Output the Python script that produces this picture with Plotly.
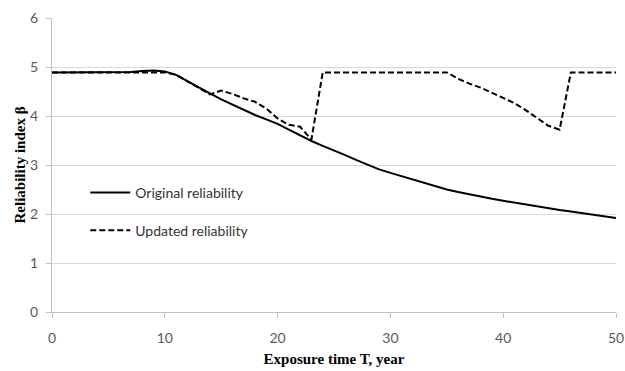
import plotly.graph_objects as go

years = list(range(0, 51))
original = [4.89, 4.89, 4.89, 4.89, 4.89, 4.89, 4.89, 4.90, 4.92, 4.93,
            4.91, 4.84, 4.71, 4.58, 4.46, 4.34, 4.23, 4.12, 4.02, 3.93,
            3.84, 3.72, 3.60, 3.49, 3.39, 3.30, 3.20, 3.10, 3.00, 2.91,
            2.84, 2.77, 2.70, 2.63, 2.56, 2.50, 2.45, 2.40, 2.36, 2.31,
            2.27, 2.23, 2.19, 2.15, 2.11, 2.08, 2.05, 2.02, 1.99, 1.96,
            1.92]
updated = [4.89, 4.89, 4.89, 4.89, 4.89, 4.89, 4.89, 4.89, 4.89, 4.89,
           4.89, 4.84, 4.71, 4.58, 4.44, 4.52, 4.45, 4.36, 4.29, 4.15,
           3.95, 3.82, 3.78, 3.52, 4.89, 4.89, 4.89, 4.89, 4.89, 4.89,
           4.89, 4.89, 4.89, 4.89, 4.89, 4.89, 4.76, 4.66, 4.58, 4.48,
           4.37, 4.26, 4.12, 3.96, 3.80, 3.72, 4.89, 4.89, 4.89, 4.89,
           4.89]

x_ticks = [0, 10, 20, 30, 40, 50]
y_ticks = [0, 1, 2, 3, 4, 5, 6]

tick_font = dict(family="Lato, Open Sans, sans-serif", size=14, color="#595959")
title_font = dict(family="Liberation Serif, Times New Roman, serif", size=15, color="#000000")

fig = go.Figure()
fig.add_trace(go.Scatter(x=years, y=original, mode="lines", name="Original reliability",
                         line=dict(color="black", width=2), legend="legend"))
fig.add_trace(go.Scatter(x=years, y=updated, mode="lines", name="Updated reliability",
                         line=dict(color="black", width=2, dash="6px,3px"), legend="legend2"))

legend_common = dict(bgcolor="rgba(0,0,0,0)", font=dict(family="Lato, Open Sans, sans-serif",
                     size=14, color="#333333"), xanchor="left", yanchor="middle",
                     itemwidth=40)
fig.update_layout(
    width=625, height=371,
    margin=dict(l=52, r=9, t=18, b=59, autoexpand=False),
    paper_bgcolor="white", plot_bgcolor="white",
    showlegend=True,
    legend=dict(x=0.059, y=0.405, **legend_common),
    legend2=dict(x=0.059, y=0.277, **legend_common),
    xaxis=dict(range=[0, 50], tickvals=x_ticks, showgrid=False, zeroline=False,
               showline=True, linecolor="#bfbfbf", linewidth=1,
               ticks="outside", ticklen=5, tickcolor="#bfbfbf", automargin=False,
               tickfont=tick_font, ticklabelstandoff=8,
               title=dict(text="<b>Exposure time T, year</b>", font=title_font, standoff=8)),
    yaxis=dict(range=[0, 6], tickvals=y_ticks, showgrid=True, gridcolor="#d9d9d9", gridwidth=1,
               zeroline=False, showline=True, linecolor="#bfbfbf", linewidth=1,
               ticks="outside", ticklen=5, tickcolor="#bfbfbf", automargin=False,
               tickfont=tick_font, ticklabelstandoff=5,
               title=dict(text="<b>Reliability index β</b>", font=title_font, standoff=0)),
)

fig.write_html("out.html", config={"displayModeBar": False},
               post_script="document.body.style.margin='0';document.body.style.overflow='hidden';")
